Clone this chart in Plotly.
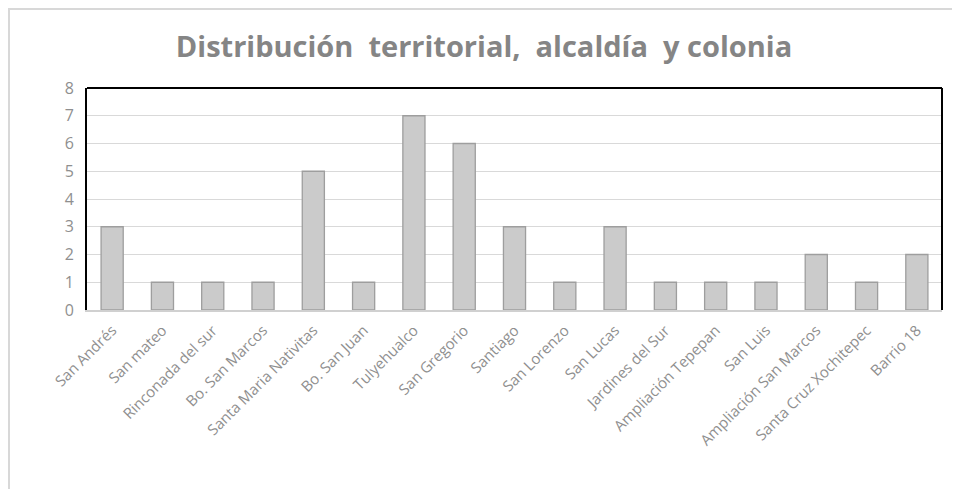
import plotly.graph_objects as go

categories = ["San Andrés", "San mateo", "Rinconada del sur", "Bo. San Marcos",
              "Santa Maria Nativitas", "Bo. San Juan", "Tulyehualco", "San Gregorio",
              "Santiago", "San Lorenzo", "San Lucas", "Jardines del Sur",
              "Ampliación Tepepan", "San Luis", "Ampliación San Marcos",
              "Santa Cruz Xochitepec", "Barrio 18"]
values = [3, 1, 1, 1, 5, 1, 7, 6, 3, 1, 3, 1, 1, 1, 2, 1, 2]
y_ticks = [0, 1, 2, 3, 4, 5, 6, 7, 8]

# page body has an 8px offset
OFF = 8
W, H = 952, 481
L, T = 87 - OFF, 88 - OFF
R = W - (942 - OFF)
B = H - (310 - OFF)
pw, ph = W - L - R, H - T - B

def px_x(x):
    return (x - OFF - L) / pw

def px_y(y):
    return (H - B - (y - OFF)) / ph

fig = go.Figure(go.Bar(
    x=categories, y=values,
    marker=dict(color="#cbcbcb", line=dict(color="#9e9e9e", width=1.3)),
    width=0.44,
))

fig.update_layout(
    width=W, height=H,
    margin=dict(l=L, r=R, t=T, b=B, autoexpand=False),
    paper_bgcolor="white", plot_bgcolor="white",
    showlegend=False,
    font=dict(family="Open Sans, Liberation Sans, sans-serif", color="#7a7a7a"),
    title=dict(text="Distribución  territorial,  alcaldía  y colonia",
               x=0.5, xanchor="center", y=1 - (47 - OFF) / H, yanchor="middle",
               font=dict(size=29, color="#858585", family="Open Sans, sans-serif", weight="bold")),
    xaxis=dict(tickangle=-45, tickfont=dict(size=15, color="#8f8f8f"),
               showline=True, linecolor="#d0d0d0", linewidth=1.5,
               ticks="", showgrid=False, automargin=False, ticklabelstandoff=4),
    yaxis=dict(range=[0, 8], tickvals=y_ticks, tickfont=dict(size=16, color="#8f8f8f"),
               showgrid=True, gridcolor="#d9d9d9", gridwidth=1.2,
               showline=True, linecolor="black", linewidth=2, zeroline=False,
               ticks="", ticklen=0, automargin=False, ticklabelstandoff=8),
    shapes=[
        dict(type="line", xref="paper", yref="paper", x0=0, x1=1, y0=1, y1=1,
             line=dict(color="black", width=2)),
        dict(type="line", xref="paper", yref="paper", x0=1, x1=1, y0=0, y1=1,
             line=dict(color="black", width=2)),
        dict(type="rect", xref="paper", yref="paper",
             x0=px_x(9), x1=px_x(1000), y0=px_y(9), y1=px_y(560),
             line=dict(color="#d8d8d8", width=2), layer="below"),
    ],
)

fig.write_html("out.html")
